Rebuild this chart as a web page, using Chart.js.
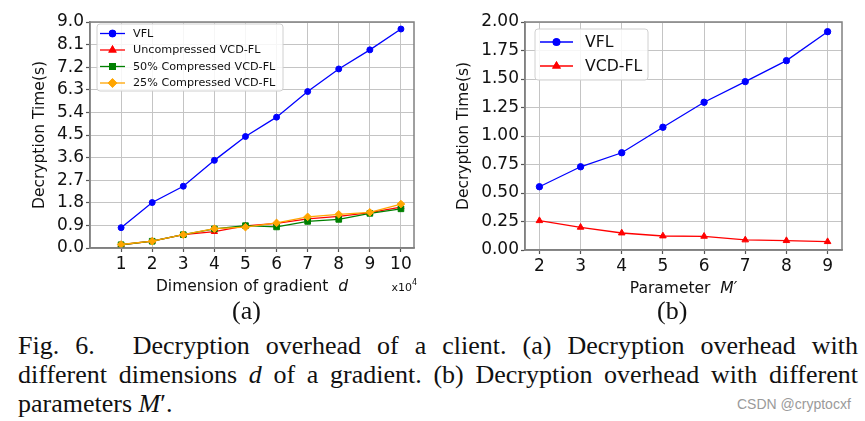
<!DOCTYPE html>
<html>
<head>
<meta charset="utf-8">
<script src="https://cdn.jsdelivr.net/npm/chart.js@4/dist/chart.umd.min.js"></script>
<style>
  body { margin: 0; background: #fff; width: 865px; height: 421px; overflow: hidden; position: relative; }
  canvas { position: absolute; top: 0; }
  #cA { left: 0; }
  #cB { left: 430px; }
  .sub { position: absolute; top: 296px; font-family: "Liberation Serif", serif; font-size: 26px; color: #111; }
  #cap { position: absolute; left: 18px; top: 331px; width: 840px; font-family: "Liberation Serif", serif; font-size: 26px; line-height: 29px; color: #111; }
  #cap div { text-align: justify; text-align-last: justify; white-space: nowrap; }
  #cap div.last { text-align-last: left; }
  #wm { position: absolute; left: 737px; top: 396px; font-family: "Liberation Sans", sans-serif; font-size: 14px; color: #9a9a9a; }
</style>
</head>
<body>
<canvas id="cA" width="430" height="300"></canvas>
<canvas id="cB" width="435" height="300"></canvas>
<div class="sub" style="left:232px">(a)</div>
<div class="sub" style="left:657px">(b)</div>
<div id="cap">
  <div>Fig.&nbsp;6.<span style="display:inline-block;width:22px"></span> Decryption overhead of a client. (a) Decryption overhead with</div>
  <div>different dimensions <i>d</i> of a gradient. (b) Decryption overhead with different</div>
  <div class="last">parameters <i>M</i>′.</div>
</div>
<div id="wm">CSDN @cryptocxf</div>
<script>
// datos (a): tiempo de descifrado vs dimension del gradiente (x10^4)
const dimA = [1, 2, 3, 4, 5, 6, 7, 8, 9, 10];
const vflA = [0.81, 1.81, 2.46, 3.49, 4.44, 5.21, 6.23, 7.13, 7.89, 8.72];
const uncompA = [0.13, 0.27, 0.53, 0.65, 0.88, 0.98, 1.16, 1.26, 1.41, 1.63];
const comp50A = [0.13, 0.27, 0.53, 0.76, 0.89, 0.84, 1.06, 1.14, 1.38, 1.56];
const comp25A = [0.14, 0.27, 0.53, 0.77, 0.83, 1.00, 1.24, 1.34, 1.42, 1.75];
const yTicksA = [0, 0.9, 1.8, 2.7, 3.6, 4.5, 5.4, 6.3, 7.2, 8.1, 9.0];

// datos (b): tiempo de descifrado vs parametro M'
const mB = [2, 3, 4, 5, 6, 7, 8, 9];
const vflB = [0.555, 0.73, 0.853, 1.077, 1.296, 1.477, 1.661, 1.915];
const vcdB = [0.257, 0.199, 0.149, 0.123, 0.12, 0.088, 0.082, 0.073];
const yTicksB = [0, 0.25, 0.5, 0.75, 1.0, 1.25, 1.5, 1.75, 2.0];

const sans = "'DejaVu Sans', sans-serif";

function pts(xs, ys) {
  return xs.map((x, i) => ({ x: x, y: ys[i] }));
}

function serie(label, xs, ys, color, style, radius, order) {
  return {
    label: label,
    data: pts(xs, ys),
    borderColor: color,
    backgroundColor: color,
    borderWidth: 1.3,
    pointStyle: style,
    pointRadius: radius,
    pointBackgroundColor: color,
    pointBorderColor: color,
    pointBorderWidth: 1,
    order: order
  };
}

// marco gris alrededor del area del grafico (arriba y derecha)
const marco = {
  id: 'marco',
  afterDraw(chart) {
    const a = chart.chartArea, ctx = chart.ctx;
    ctx.save();
    ctx.strokeStyle = '#808080';
    ctx.lineWidth = 1.5;
    ctx.strokeRect(a.left, a.top, a.right - a.left, a.bottom - a.top);
    ctx.restore();
  }
};

// leyenda dentro del grafico, arriba a la izquierda
const leyenda = {
  id: 'leyenda',
  afterDraw(chart, args, o) {
    const ctx = chart.ctx;
    ctx.save();
    ctx.beginPath();
    ctx.roundRect(o.x, o.y, o.w, o.h, 3);
    ctx.fillStyle = 'rgba(255,255,255,0.85)';
    ctx.fill();
    ctx.strokeStyle = '#d0d0d0';
    ctx.lineWidth = 1;
    ctx.stroke();
    ctx.font = o.size + 'px ' + sans;
    ctx.textBaseline = 'middle';
    chart.data.datasets.forEach((ds, i) => {
      const y = o.y + o.first + i * o.step;
      ctx.strokeStyle = ds.borderColor;
      ctx.lineWidth = 1.3;
      ctx.beginPath();
      ctx.moveTo(o.x + o.l0, y);
      ctx.lineTo(o.x + o.l1, y);
      ctx.stroke();
      ctx.fillStyle = ds.borderColor;
      Chart.helpers.drawPoint(ctx, { pointStyle: ds.pointStyle, radius: ds.pointRadius, rotation: 0, borderWidth: 1 }, o.x + (o.l0 + o.l1) / 2, y);
      ctx.fill();
      ctx.stroke();
      ctx.fillStyle = '#111';
      ctx.fillText(ds.label, o.x + o.tx, y + 0.5);
    });
    ctx.restore();
  }
};

// titulo del eje x con la variable en cursiva
const tituloX = {
  id: 'tituloX',
  afterDraw(chart, args, o) {
    const ctx = chart.ctx, a = chart.chartArea;
    ctx.save();
    const f1 = o.size + 'px ' + sans, f2 = 'italic ' + o.size + 'px ' + sans;
    ctx.font = f1;
    const w1 = ctx.measureText(o.text).width;
    ctx.font = f2;
    const w2 = ctx.measureText(o.vari).width;
    let x = (a.left + a.right) / 2 - (w1 + w2) / 2;
    ctx.fillStyle = '#111';
    ctx.textBaseline = 'middle';
    ctx.textAlign = 'left';
    ctx.font = f1;
    ctx.fillText(o.text, x, o.y);
    ctx.font = f2;
    ctx.fillText(o.vari, x + w1, o.y);
    if (o.exp) {
      ctx.textAlign = 'right';
      ctx.font = '8px ' + sans;
      ctx.fillText('4', o.expX, o.expY - 5);
      ctx.font = '11px ' + sans;
      ctx.fillText(o.exp, o.expX - 5, o.expY);
    }
    ctx.restore();
  }
};

function ejes(xmin, xmax, xTicks, yTicks, yDec, yWidth, xHeight, titlePad) {
  const grid = {
    color: '#c4c4c4',
    lineWidth: 1,
    borderDash: [3, 2],
    tickLength: 4,
    tickColor: '#555',
    tickBorderDash: [],
    tickWidth: 1.2
  };
  return {
    x: {
      type: 'linear', min: xmin, max: xmax,
      afterBuildTicks: s => { s.ticks = xTicks.map(v => ({ value: v })); },
      afterFit: s => { s.height = xHeight; },
      grid: grid,
      border: { color: '#808080', width: 1.5 },
      ticks: { font: { family: sans, size: 17 }, color: '#111', padding: 2, maxRotation: 0, autoSkip: false, callback: v => String(v) }
    },
    y: {
      min: 0, max: yTicks[yTicks.length - 1],
      afterBuildTicks: s => { s.ticks = yTicks.map(v => ({ value: v })); },
      afterFit: s => { s.width = yWidth; },
      grid: grid,
      border: { color: '#808080', width: 1.5 },
      ticks: { font: { family: sans, size: 17 }, color: '#111', padding: 2, autoSkip: false, callback: v => Number(v).toFixed(yDec) },
      title: { display: true, text: 'Decryption Time(s)', font: { family: sans, size: 15.5 }, color: '#111', padding: { top: titlePad, bottom: 0 } }
    }
  };
}

Chart.defaults.animation = false;

new Chart('cA', {
  type: 'line',
  data: {
    datasets: [
      serie('VFL', dimA, vflA, '#0000ff', 'circle', 3, 3),
      serie('Uncompressed VCD-FL', dimA, uncompA, '#ff0000', 'triangle', 3.6, 2),
      serie('50% Compressed VCD-FL', dimA, comp50A, '#008000', 'rect', 4, 1),
      serie('25% Compressed VCD-FL', dimA, comp25A, '#ffa500', 'rectRot', 3.8, 0)
    ]
  },
  options: {
    responsive: false,
    layout: { padding: { left: 0, right: 16, top: 22, bottom: 0 } },
    scales: ejes(0, 10.42, dimA, yTicksA, 1, 90, 52, 30.7),
    plugins: {
      legend: { display: false },
      tooltip: { enabled: false },
      leyenda: { x: 97, y: 24, w: 186, h: 67, first: 9.5, step: 16.5, l0: 3, l1: 28, tx: 36, size: 11.2 },
      tituloX: { text: 'Dimension of gradient  ', vari: 'd', size: 15.5, y: 287, exp: 'x10', expX: 417, expY: 288 }
    }
  },
  plugins: [marco, leyenda, tituloX]
});

new Chart('cB', {
  type: 'line',
  data: {
    datasets: [
      serie('VFL', mB, vflB, '#0000ff', 'circle', 3.2, 1),
      serie('VCD-FL', mB, vcdB, '#ff0000', 'triangle', 3.8, 0)
    ]
  },
  options: {
    responsive: false,
    layout: { padding: { left: 0, right: 23, top: 22, bottom: 0 } },
    scales: ejes(1.65, 9.35, mB, yTicksB, 2, 95, 50, 24.7),
    plugins: {
      legend: { display: false },
      tooltip: { enabled: false },
      leyenda: { x: 105, y: 29, w: 113, h: 51, first: 13, step: 24, l0: 5, l1: 38, tx: 50, size: 15.7 },
      tituloX: { text: 'Parameter  ', vari: 'M\u2032', size: 15.5, y: 289 }
    }
  },
  plugins: [marco, leyenda, tituloX]
});
</script>
</body>
</html>
